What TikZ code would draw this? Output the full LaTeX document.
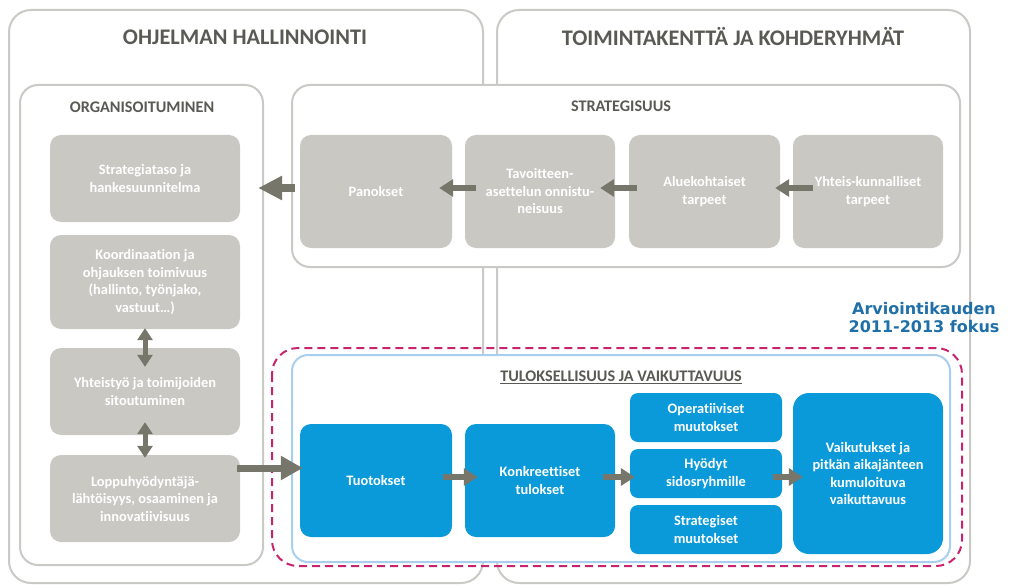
\documentclass[tikz,border=0pt]{standalone}
\usepackage{fontspec}
\setmainfont{Carlito}[Ligatures=NoCommon]
\newfontfamily\verdfont{DejaVu Sans}
\usetikzlibrary{arrows.meta,calc}
\definecolor{framegray}{HTML}{C9C9C5}
\definecolor{boxgray}{HTML}{C9C8C3}
\definecolor{titlegray}{HTML}{5A5A54}
\definecolor{arrowc}{HTML}{76766A}
\definecolor{blueb}{HTML}{0A9ADA}
\definecolor{lightblue}{HTML}{A8CFEE}
\definecolor{magentad}{HTML}{C8246E}
\definecolor{fokusblue}{HTML}{1F6FA8}
\tikzset{
  frame/.style={draw=framegray, line width=2pt, rounded corners=22pt},
  innerframe/.style={draw=framegray, fill=white, line width=2pt, rounded corners=18pt},
  boxtext/.style={text=white, font=\bfseries\fontsize{14.4}{17.5}\selectfont, align=center, inner sep=2pt},
  gbox/.style={boxtext, fill=boxgray, rounded corners=11pt},
  bbox/.style={boxtext, fill=blueb, rounded corners=11pt},
  bigtitle/.style={text=titlegray, font=\bfseries\fontsize{22.3}{26}\selectfont},
  subtitle/.style={text=titlegray, font=\bfseries\fontsize{16.2}{19}\selectfont},
  bigarr/.style={draw=arrowc, line width=8pt, -{Triangle[length=24pt,width=23pt]}},
  medarr/.style={draw=arrowc, line width=7pt, -{Triangle[length=22pt,width=23pt]}},
  smallarr/.style={draw=arrowc, line width=6pt, -{Triangle[length=14pt,width=17pt]}},
  dblarr/.style={draw=arrowc, line width=5pt, {Triangle[length=12pt,width=15pt]}-{Triangle[length=12pt,width=15pt]}},
}
\begin{document}
\begin{tikzpicture}[x=1pt,y=-1pt]
\useasboundingbox (0,0) rectangle (1024,588);
% outer frames
\draw[frame] (9,10) rectangle (483,583);
\draw[frame] (497,10) rectangle (970,583);
\node[bigtitle] (t1) at (245,37) {OHJELMAN HALLINNOINTI};
\node[bigtitle] (t2) at (733,37) {TOIMINTAKENTTÄ JA KOHDERYHMÄT};
% inner frames
\draw[innerframe] (20,85) rectangle (263,565);
\node[subtitle] (t3) at (142,107) {ORGANISOITUMINEN};
\draw[innerframe] (292,85) rectangle (960,267);
\node[subtitle] (t4) at (621,106) {STRATEGISUUS};
% results frame
\draw[fill=white, draw=lightblue, line width=2pt, rounded corners=16pt] (292,355) rectangle (950,562);
\draw[draw=magentad, line width=2pt, dash pattern=on 8pt off 5pt, rounded corners=26pt] (272,348) rectangle (962,566);
\node[subtitle, inner sep=0pt] (t5) at (621,376) {TULOKSELLISUUS JA VAIKUTTAVUUS};
\draw[titlegray, line width=0.8pt] ([yshift=-2pt]t5.south west) -- ([yshift=-2pt]t5.south east);
\node[text=fokusblue, font=\verdfont\bfseries\fontsize{16}{18}\selectfont, align=center] (fokus) at (924,318) {Arviointikauden\\2011-2013 fokus};
% left gray boxes
\node[gbox, minimum width=190pt, minimum height=87pt] (s1) at (145,178.5) {Strategiataso ja\\hankesuunnitelma};
\node[gbox, minimum width=190pt, minimum height=94pt] (s2) at (145,282) {Koordinaation ja\\ohjauksen toimivuus\\(hallinto, työnjako,\\vastuut…)};
\node[gbox, minimum width=190pt, minimum height=87pt] (s3) at (145,391.5) {Yhteistyö ja toimijoiden\\sitoutuminen};
\node[gbox, minimum width=190pt, minimum height=87pt] (s4) at (145,498.5) {Loppuhyödyntäjä-\\lähtöisyys, osaaminen ja\\innovatiivisuus};
% top row
\node[gbox, minimum width=152pt, minimum height=113pt] (pan) at (376,191.5) {Panokset};
\node[gbox, minimum width=150pt, minimum height=113pt] (tav) at (540,191.5) {Tavoitteen-\\asettelun onnistu-\\neisuus};
\node[gbox, minimum width=151pt, minimum height=113pt] (alu) at (704.5,191.5) {Aluekohtaiset\\tarpeet};
\node[gbox, minimum width=150pt, minimum height=113pt] (yht) at (868,191.5) {Yhteis-kunnalliset\\tarpeet};
% blue boxes
\node[bbox, minimum width=152pt, minimum height=113pt] (tuo) at (376,480.5) {Tuotokset};
\node[bbox, minimum width=150pt, minimum height=113pt] (kon) at (540,480.5) {Konkreettiset\\tulokset};
\node[bbox, minimum width=152pt, minimum height=49pt, rounded corners=8pt] (ope) at (706,417.5) {Operatiiviset\\muutokset};
\node[bbox, minimum width=152pt, minimum height=49pt, rounded corners=8pt] (hyo) at (706,473.5) {Hyödyt\\sidosryhmille};
\node[bbox, minimum width=152pt, minimum height=49pt, rounded corners=8pt] (str) at (706,529.5) {Strategiset\\muutokset};
\node[bbox, minimum width=150pt, minimum height=161pt, rounded corners=16pt] (vai) at (868,473.5) {Vaikutukset ja\\pitkän aikajänteen\\kumuloituva\\vaikuttavuus};
% arrows top
\draw[bigarr, shorten <=5pt, shorten >=18pt] ([yshift=3.5pt]pan.west) -- ([yshift=3.5pt]pan.west -| s1.east);
\draw[smallarr, shorten <=-11pt, shorten >=-13pt] ([yshift=3.5pt]tav.west) -- ([yshift=3.5pt]tav.west -| pan.east);
\draw[smallarr, shorten <=-8pt, shorten >=-15pt] ([yshift=3.5pt]alu.west) -- ([yshift=3.5pt]alu.west -| tav.east);
\draw[smallarr, shorten <=-20pt, shorten >=-5pt] ([yshift=3.5pt]yht.west) -- ([yshift=3.5pt]yht.west -| alu.east);
% double arrows
\draw[dblarr, shorten <=-1pt, shorten >=-19pt] (s2.south) -- (s3.north);
\draw[dblarr, shorten <=-13pt, shorten >=-3pt] (s3.south) -- (s4.north);
% bottom arrows
\draw[medarr, shorten <=-3pt, shorten >=-3pt] ([yshift=12.5pt]tuo.west -| s4.east) -- ([yshift=12.5pt]tuo.west);
\draw[smallarr, shorten <=-9pt, shorten >=-13pt] ([yshift=3.5pt]tuo.east) -- ([yshift=3.5pt]tuo.east -| kon.west);
\draw[smallarr, shorten <=-12pt, shorten >=-5pt] ([yshift=3.5pt]kon.east) -- ([yshift=3.5pt]kon.east -| hyo.west);
\draw[smallarr, shorten <=-9pt, shorten >=-10pt] ([yshift=-3.5pt]hyo.east) -- ([yshift=-3.5pt]hyo.east -| vai.west);
\end{tikzpicture}
\end{document}
